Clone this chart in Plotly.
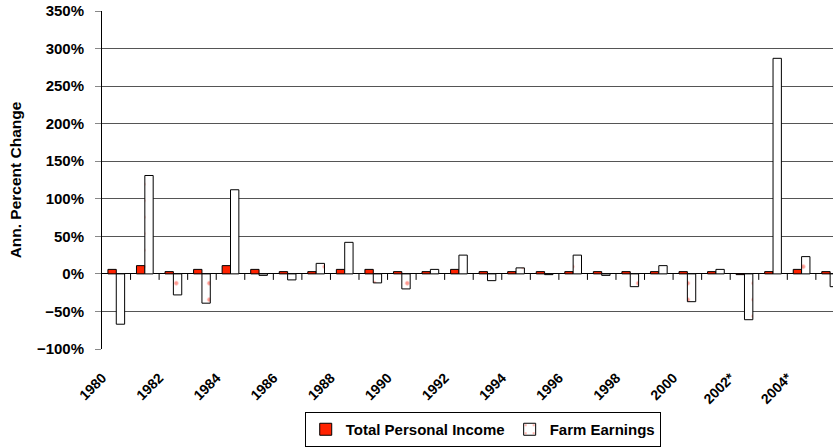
import plotly.graph_objects as go

# Annual percent change by year
years = list(range(1980, 2006))
total_personal_income = [6, 11, 3, 6, 11, 6, 3, 3, 6, 6, 3, 3, 6, 3, 3, 3,
                         3, 3, 3, 3, 3, 3, -1, 3, 6, 3]
farm_earnings = [-67, 131, -28, -39, 112, -2, -8, 14, 42, -12, -20, 6, 25, -9, 8, -1,
                 25, -2, -17, 11, -37, 6, -61, 287, 23, -17]

tick_years = [1980, 1982, 1984, 1986, 1988, 1990, 1992, 1994, 1996, 1998, 2000, 2002, 2004]
tick_labels = ["1980", "1982", "1984", "1986", "1988", "1990", "1992", "1994",
               "1996", "1998", "2000", "2002*", "2004*"]

FONT = "Arial, 'Liberation Sans', sans-serif"

fig = go.Figure()
fig.add_trace(go.Bar(
    x=years, y=total_personal_income, name="Total Personal Income",
    marker=dict(color="#ff2200", line=dict(color="#000000", width=1)),
))
fig.add_trace(go.Bar(
    x=years, y=farm_earnings, name="Farm Earnings",
    marker=dict(color="#ffffff", line=dict(color="#000000", width=1),
                pattern=dict(shape=".", fgcolor="#ff3322", bgcolor="#ffffff",
                             size=16.5, solidity=0.05)),
))

# category separator ticks hanging below the zero line
for yr in years[:-1]:
    fig.add_shape(type="line", xref="x", yref="y", x0=yr + 0.5, x1=yr + 0.5,
                  ysizemode="pixel", yanchor=0, y0=0, y1=-6,
                  line=dict(color="#000000", width=1))

fig.update_layout(
    width=833, height=448,
    margin=dict(l=102, r=0, t=11, b=99, autoexpand=False),
    paper_bgcolor="#ffffff", plot_bgcolor="#ffffff",
    barmode="group", bargap=0.415, bargroupgap=0,
    font=dict(family=FONT, color="#000000"),
    showlegend=True,
    legend=dict(orientation="h", xref="container", x=0.5795, xanchor="center",
                yref="container", y=1 - 412 / 448, yanchor="top",
                bordercolor="#000000", borderwidth=1, bgcolor="#ffffff",
                font=dict(family=FONT, size=15, color="#000000", weight="bold"),
                itemwidth=30, tracegroupgap=0),
    xaxis=dict(range=[1979.5, 2005.1], tickmode="array", tickvals=tick_years,
               ticktext=tick_labels, tickangle=-45, ticks="", showgrid=False,
               showline=False, zeroline=False, automargin=False,
               tickfont=dict(family=FONT, size=14, weight="bold"),
               ticklabelshift=-14, ticklabelstandoff=17),
    yaxis=dict(range=[-100, 350], dtick=50, ticksuffix="%", automargin=False,
               showgrid=True, gridcolor="#555555", gridwidth=1,
               zeroline=True, zerolinecolor="#000000", zerolinewidth=1,
               showline=True, linecolor="#000000", linewidth=1,
               ticks="outside", ticklen=6, tickcolor="#888888",
               tickfont=dict(family=FONT, size=15, weight="bold"),
               ticklabelstandoff=8,
               title=dict(text="Ann. Percent Change", standoff=11,
                          font=dict(family=FONT, size=15.5, weight="bold"))),
)

fig.write_html("out.html")
